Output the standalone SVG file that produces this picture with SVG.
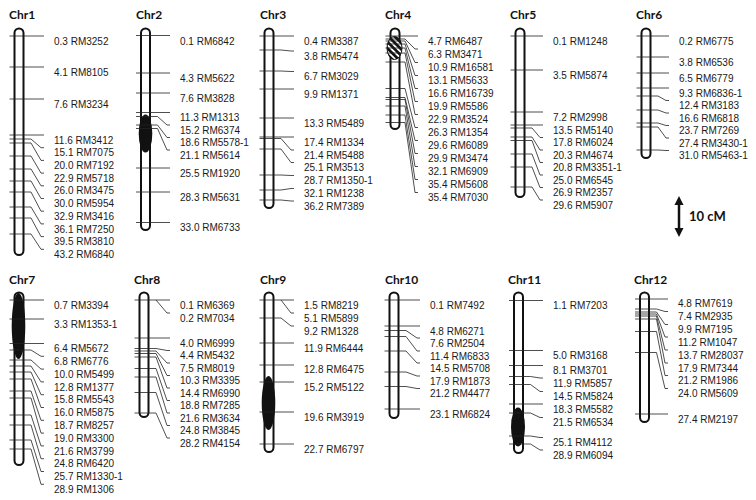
<svg xmlns="http://www.w3.org/2000/svg" width="756" height="500" viewBox="0 0 756 500">
<style>
.t{font-family:Lato,"Liberation Sans",Arial,sans-serif;font-weight:bold;font-size:12px;fill:#111}
.l{font-family:"Liberation Sans",Arial,sans-serif;font-size:10px;fill:#1a1a1a}
.bar{fill:#fff;stroke:#111;stroke-width:2}
.cen{fill:#111}
.m{fill:none;stroke:#222;stroke-width:0.8}
.sc{font-family:Lato,"Liberation Sans",Arial,sans-serif;font-weight:bold;font-size:13px;fill:#111}
</style>
<defs>
<pattern id="hatch" patternUnits="userSpaceOnUse" width="4.5" height="4.5" patternTransform="rotate(45)">
<rect width="4.5" height="4.5" fill="#111"/><rect width="4.5" height="1.8" fill="#fff"/>
</pattern>
</defs>

<g id="chr1">
<text class="t" x="9" y="19">Chr1</text>
<rect class="bar" x="14.5" y="28.5" width="9" height="226.5" rx="4.5"/>
<text class="l" x="54" y="44.6">0.3 RM3252</text>
<text class="l" x="54" y="75.6">4.1 RM8105</text>
<text class="l" x="54" y="107.6">7.6 RM3234</text>
<text class="l" x="54" y="143.6">11.6 RM3412</text>
<text class="l" x="54" y="156.3">15.1 RM7075</text>
<text class="l" x="54" y="169">20.0 RM7192</text>
<text class="l" x="54" y="181.7">22.9 RM5718</text>
<text class="l" x="54" y="194.4">26.0 RM3475</text>
<text class="l" x="54" y="207.1">30.0 RM5954</text>
<text class="l" x="54" y="219.8">32.9 RM3416</text>
<text class="l" x="54" y="232.5">36.1 RM7250</text>
<text class="l" x="54" y="245.2">39.5 RM3810</text>
<text class="l" x="54" y="257.9">43.2 RM6840</text>
</g>

<g id="chr2">
<text class="t" x="136" y="19">Chr2</text>
<rect class="bar" x="141" y="28.5" width="9" height="201.5" rx="4.5"/>
<ellipse class="cen" cx="145.5" cy="133.5" rx="6.8" ry="19"/>
<text class="l" x="180" y="44.6">0.1 RM6842</text>
<text class="l" x="180" y="82.1">4.3 RM5622</text>
<text class="l" x="180" y="101.6">7.6 RM3828</text>
<text class="l" x="180" y="121.1">11.3 RM1313</text>
<text class="l" x="180" y="133.6">15.2 RM6374</text>
<text class="l" x="180" y="146.1">18.6 RM5578-1</text>
<text class="l" x="180" y="158.6">21.1 RM5614</text>
<text class="l" x="180" y="176.6">25.5 RM1920</text>
<text class="l" x="180" y="200.6">28.3 RM5631</text>
<text class="l" x="180" y="231.1">33.0 RM6733</text>
</g>

<g id="chr3">
<text class="t" x="260" y="19">Chr3</text>
<rect class="bar" x="264.5" y="28.5" width="9" height="179.5" rx="4.5"/>
<text class="l" x="304" y="44.6">0.4 RM3387</text>
<text class="l" x="304" y="59.6">3.8 RM5474</text>
<text class="l" x="304" y="80.1">6.7 RM3029</text>
<text class="l" x="304" y="97.6">9.9 RM1371</text>
<text class="l" x="304" y="126.6">13.3 RM5489</text>
<text class="l" x="304" y="145.6">17.4 RM1334</text>
<text class="l" x="304" y="158.6">21.4 RM5488</text>
<text class="l" x="304" y="171.1">25.1 RM3513</text>
<text class="l" x="304" y="184.1">28.7 RM1350-1</text>
<text class="l" x="304" y="197.1">32.1 RM1238</text>
<text class="l" x="304" y="209.6">36.2 RM7389</text>
</g>

<g id="chr4">
<text class="t" x="385" y="19">Chr4</text>
<rect class="bar" x="390.5" y="28.5" width="9" height="100.5" rx="4.5"/>
<ellipse cx="394.5" cy="48" rx="7.5" ry="11.5" fill="url(#hatch)" stroke="#111" stroke-width="1"/>
<text class="l" x="428" y="44.6">4.7 RM6487</text>
<text class="l" x="428" y="57.6">6.3 RM3471</text>
<text class="l" x="428" y="71.1">10.9 RM16581</text>
<text class="l" x="428" y="84.1">13.1 RM5633</text>
<text class="l" x="428" y="97.1">16.6 RM16739</text>
<text class="l" x="428" y="110.1">19.9 RM5586</text>
<text class="l" x="428" y="123.1">22.9 RM3524</text>
<text class="l" x="428" y="136.1">26.3 RM1354</text>
<text class="l" x="428" y="149.1">29.6 RM6089</text>
<text class="l" x="428" y="162.1">29.9 RM3474</text>
<text class="l" x="428" y="175.1">32.1 RM6909</text>
<text class="l" x="428" y="188.1">35.4 RM5608</text>
<text class="l" x="428" y="201.1">35.4 RM7030</text>
</g>

<g id="chr5">
<text class="t" x="510" y="19">Chr5</text>
<rect class="bar" x="515.5" y="28.5" width="9" height="168.5" rx="4.5"/>
<text class="l" x="553" y="44.6">0.1 RM1248</text>
<text class="l" x="553" y="78.6">3.5 RM5874</text>
<text class="l" x="553" y="120.6">7.2 RM2998</text>
<text class="l" x="553" y="133.6">13.5 RM5140</text>
<text class="l" x="553" y="146.1">17.8 RM6024</text>
<text class="l" x="553" y="158.6">20.3 RM4674</text>
<text class="l" x="553" y="171.1">20.8 RM3351-1</text>
<text class="l" x="553" y="183.6">25.0 RM6545</text>
<text class="l" x="553" y="196.1">26.9 RM2357</text>
<text class="l" x="553" y="208.6">29.6 RM5907</text>
</g>

<g id="chr6">
<text class="t" x="636" y="19">Chr6</text>
<rect class="bar" x="641.5" y="28.5" width="9" height="129.5" rx="4.5"/>
<text class="l" x="679" y="44.6">0.2 RM6775</text>
<text class="l" x="679" y="65.6">3.8 RM6536</text>
<text class="l" x="679" y="81.6">6.5 RM6779</text>
<text class="l" x="679" y="96.6">9.3 RM6836-1</text>
<text class="l" x="679" y="109.1">12.4 RM3183</text>
<text class="l" x="679" y="121.6">16.6 RM6818</text>
<text class="l" x="679" y="134.1">23.7 RM7269</text>
<text class="l" x="679" y="146.6">27.4 RM3430-1</text>
<text class="l" x="679" y="159.1">31.0 RM5463-1</text>
</g>

<g id="scale">
<line x1="679" y1="203" x2="679" y2="230" stroke="#111" stroke-width="2.5"/>
<polygon points="679,196 674.5,205 683.5,205" fill="#111"/>
<polygon points="679,237 674.5,228 683.5,228" fill="#111"/>
<text class="sc" x="689" y="221">10 cM</text>
</g>

<g id="chr7">
<text class="t" x="9" y="283.5">Chr7</text>
<rect class="bar" x="14.5" y="292.5" width="9" height="172.5" rx="4.5"/>
<ellipse class="cen" cx="18.5" cy="326" rx="6.8" ry="33"/>
<text class="l" x="54" y="308.6">0.7 RM3394</text>
<text class="l" x="54" y="327.6">3.3 RM1353-1</text>
<text class="l" x="54" y="352.1">6.4 RM5672</text>
<text class="l" x="54" y="364.9">6.8 RM6776</text>
<text class="l" x="54" y="377.7">10.0 RM5499</text>
<text class="l" x="54" y="390.5">12.8 RM1377</text>
<text class="l" x="54" y="403.3">15.8 RM5543</text>
<text class="l" x="54" y="416.1">16.0 RM5875</text>
<text class="l" x="54" y="428.9">18.7 RM8257</text>
<text class="l" x="54" y="441.7">19.0 RM3300</text>
<text class="l" x="54" y="454.5">21.6 RM3799</text>
<text class="l" x="54" y="467.3">24.8 RM6420</text>
<text class="l" x="54" y="480.1">25.7 RM1330-1</text>
<text class="l" x="54" y="492.9">28.9 RM1306</text>
</g>

<g id="chr8">
<text class="t" x="134" y="283.5">Chr8</text>
<rect class="bar" x="139.5" y="292.5" width="9" height="124.5" rx="4.5"/>
<text class="l" x="180" y="308.6">0.1 RM6369</text>
<text class="l" x="180" y="321.6">0.2 RM7034</text>
<text class="l" x="180" y="346.6">4.0 RM6999</text>
<text class="l" x="180" y="359.1">4.4 RM5432</text>
<text class="l" x="180" y="371.6">7.5 RM8019</text>
<text class="l" x="180" y="384.1">10.3 RM3395</text>
<text class="l" x="180" y="396.6">14.4 RM6990</text>
<text class="l" x="180" y="409.1">18.8 RM7285</text>
<text class="l" x="180" y="421.6">21.6 RM3634</text>
<text class="l" x="180" y="434.1">24.8 RM3845</text>
<text class="l" x="180" y="446.6">28.2 RM4154</text>
</g>

<g id="chr9">
<text class="t" x="260" y="283.5">Chr9</text>
<rect class="bar" x="264.5" y="292.5" width="9" height="159.5" rx="4.5"/>
<ellipse class="cen" cx="268.5" cy="403" rx="6.8" ry="27"/>
<text class="l" x="304" y="308.6">1.5 RM8219</text>
<text class="l" x="304" y="321.6">5.1 RM5899</text>
<text class="l" x="304" y="334.6">9.2 RM1328</text>
<text class="l" x="304" y="352.1">11.9 RM6444</text>
<text class="l" x="304" y="373.1">12.8 RM6475</text>
<text class="l" x="304" y="390.6">15.2 RM5122</text>
<text class="l" x="304" y="420.6">19.6 RM3919</text>
<text class="l" x="304" y="452.6">22.7 RM6797</text>
</g>

<g id="chr10">
<text class="t" x="385" y="283.5">Chr10</text>
<rect class="bar" x="389.5" y="292.5" width="9" height="125.5" rx="4.5"/>
<text class="l" x="430" y="308.6">0.1 RM7492</text>
<text class="l" x="430" y="334.6">4.8 RM6271</text>
<text class="l" x="430" y="346.6">7.6 RM2504</text>
<text class="l" x="430" y="359.6">11.4 RM6833</text>
<text class="l" x="430" y="371.6">14.5 RM5708</text>
<text class="l" x="430" y="384.6">17.9 RM1873</text>
<text class="l" x="430" y="397.1">21.2 RM4477</text>
<text class="l" x="430" y="417.6">23.1 RM6824</text>
</g>

<g id="chr11">
<text class="t" x="508" y="283.5">Chr11</text>
<rect class="bar" x="514" y="292.5" width="9" height="160.5" rx="4.5"/>
<ellipse class="cen" cx="518" cy="427" rx="7" ry="19.5"/>
<text class="l" x="553" y="308.6">1.1 RM7203</text>
<text class="l" x="553" y="359.1">5.0 RM3168</text>
<text class="l" x="553" y="373.6">8.1 RM3701</text>
<text class="l" x="553" y="386.6">11.9 RM5857</text>
<text class="l" x="553" y="400.1">14.5 RM5824</text>
<text class="l" x="553" y="412.6">18.3 RM5582</text>
<text class="l" x="553" y="426.1">21.5 RM6534</text>
<text class="l" x="553" y="446.1">25.1 RM4112</text>
<text class="l" x="553" y="458.6">28.9 RM6094</text>
</g>

<g id="chr12">
<text class="t" x="634" y="283.5">Chr12</text>
<rect class="bar" x="640" y="292.5" width="9" height="129.5" rx="4.5"/>
<text class="l" x="678" y="307.1">4.8 RM7619</text>
<text class="l" x="678" y="320.1">7.4 RM2935</text>
<text class="l" x="678" y="333.1">9.9 RM7195</text>
<text class="l" x="678" y="345.6">11.2 RM1047</text>
<text class="l" x="678" y="358.6">13.7 RM28037</text>
<text class="l" x="678" y="371.6">17.9 RM7344</text>
<text class="l" x="678" y="384.1">21.2 RM1986</text>
<text class="l" x="678" y="397.1">24.0 RM5609</text>
<text class="l" x="678" y="422.6">27.4 RM2197</text>
</g>

<g id="connectors">
<path class="m" d="M9.5 36H44M9.5 67H44M9.5 99H44M9.5 135H44M9.5 139H31L41 147.7H44M9.5 143H31L41 160.4H44M9.5 156H31L41 173.1H44M9.5 169H31L41 185.8H44M9.5 181H31L41 198.5H44M9.5 192H31L41 211.2H44M9.5 207H31L41 223.9H44M9.5 218H31L41 236.6H44M9.5 234H31L41 249.3H44"/>
<path class="m" d="M136 35.5H170M136 73H170M136 93H170M136 112.5H170M136 116.5H157.5L167 125H170M136 125H157.5L167 137.5H170M136 128.5H157.5L167 150H170M136 168H170M136 192H170M136 222.5H170"/>
<path class="m" d="M259.5 36H294M259.5 50H281L291 51H294M259.5 71H281L291 71.5H294M259.5 89H294M259.5 118H294M259.5 137H294M259.5 138.5H281L291 150H294M259.5 149H281L291 162.5H294M259.5 175H281L291 175.5H294M259.5 190H281L291 188.5H294M259.5 200H281L291 201H294"/>
<path class="m" d="M385.5 36H418M385.5 39H405L415 49H418M385.5 41H405L415 62.5H418M385.5 44H405L415 75.5H418M385.5 48H405L415 88.5H418M385.5 53H405L415 101.5H418M385.5 62H405L415 114.5H418M385.5 88.5H405L415 127.5H418M385.5 97.5H405L415 140.5H418M385.5 99.5H405L415 153.5H418M385.5 106H405L415 166.5H418M385.5 115H405L415 179.5H418M385.5 122.5H405L415 192.5H418"/>
<path class="m" d="M510.5 36H543M510.5 70H543M510.5 112H543M510.5 125H543M510.5 128H532L540 137.5H543M510.5 137H532L540 150H543M510.5 140.5H532L540 162.5H543M510.5 154H532L540 175H543M510.5 167H532L540 187.5H543M510.5 187H532L540 200H543"/>
<path class="m" d="M636.5 36H669M636.5 57H669M636.5 73H669M636.5 88H669M636.5 96H658L666 100.5H669M636.5 110H658L666 113H669M636.5 123H658L666 125.5H669M636.5 127H658L666 138H669M636.5 150H658L666 150.5H669"/>
<path class="m" d="M9.5 300H44M9.5 319H44M9.5 343.5H44M9.5 350H31L41 356.3H44M9.5 360H31L41 369.1H44M9.5 366H31L41 381.9H44M9.5 372H31L41 394.7H44M9.5 379H31L41 407.5H44M9.5 391H31L41 420.3H44M9.5 398H31L41 433.1H44M9.5 415H31L41 445.9H44M9.5 425H31L41 458.7H44M9.5 440H31L41 471.5H44M9.5 449H31L41 484.3H44"/>
<path class="m" d="M134.5 300H170M156 300L167 313H170M134.5 338H170M134.5 348.5H156L167 350.5H170M134.5 351H156L167 363H170M134.5 353.5H156L167 375.5H170M134.5 357H156L167 388H170M134.5 368.5H156L167 400.5H170M134.5 377H156L167 413H170M134.5 392.5H156L167 425.5H170M134.5 413H156L167 438H170"/>
<path class="m" d="M259.5 300H294M281 300L291 313H294M259.5 318H281L291 326H294M259.5 343H294M259.5 365H294M259.5 382H294M259.5 412H294M259.5 444H294"/>
<path class="m" d="M384.5 300H420M384.5 326H420M384.5 330.5H406L417 338H420M384.5 336.5H406L417 351H420M384.5 351H406L417 363H420M384.5 372H406L417 376H420M384.5 386.5H406L417 388.5H420M384.5 409H420"/>
<path class="m" d="M509 300.5H543M509 350.5H543M509 365.5H543M509 376.5H530.5L540 378H543M509 384.5H530.5L540 391.5H543M509 404H543M509 413H530.5L540 417.5H543M509 436H530.5L540 437.5H543M509 444H530.5L540 450H543"/>
<path class="m" d="M635 299H668M635 309H656.5L665 311.5H668M635 312H656.5L665 324.5H668M635 314H656.5L665 337H668M635 316H656.5L665 350H668M635 319H656.5L665 363H668M635 331.5H656.5L665 375.5H668M635 352.5H656.5L665 388.5H668M635 414H668"/>
</g>
</svg>
